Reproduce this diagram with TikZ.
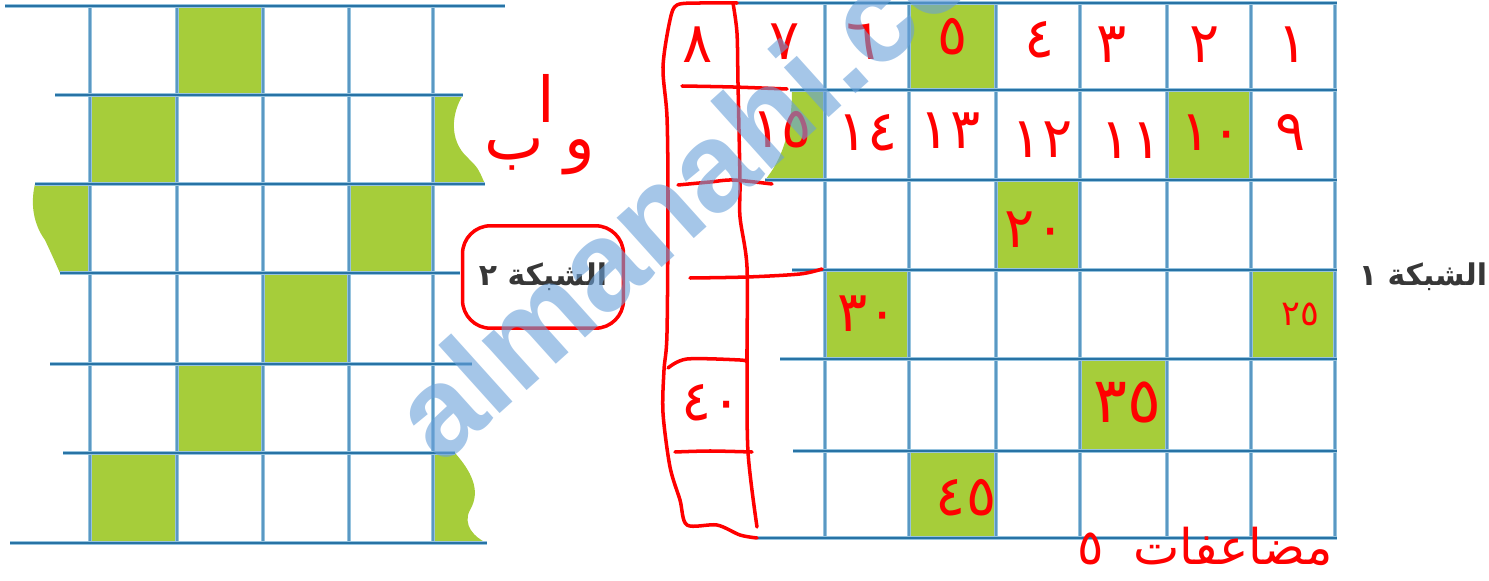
\documentclass[tikz,border=0pt]{standalone}
\usepackage{fontspec}
\newfontfamily\arabicfont[Script=Arabic]{DejaVu Sans}
\newfontfamily\filigranefont{Liberation Sans}
\TeXXeTstate=1
\definecolor{vertcase}{RGB}{166,205,58}
\definecolor{grilleclair}{RGB}{150,195,222}
\definecolor{grillefonce}{RGB}{40,115,165}
\definecolor{grillemoyen}{RGB}{90,152,195}
\definecolor{feutre}{RGB}{255,0,0}
\definecolor{texteimprime}{RGB}{55,55,55}
\definecolor{bleufiligrane}{RGB}{105,160,217}
\begin{document}
\begin{tikzpicture}[x=0.02cm,y=-0.02cm]
		% Styles (MODIFIABLES)
		\tikzstyle{caseverte}=[fill=vertcase]
		\tikzstyle{ligneH}=[draw=grilleclair,line width=0.5pt,double=grillefonce,double distance=1.2pt]
		\tikzstyle{ligneV}=[draw=grilleclair,line width=1.1pt,double=grillemoyen,double distance=0.6pt]
		\tikzstyle{trait}=[draw=feutre,line width=2pt,line cap=round,line join=round]
		\tikzstyle{chiffre}=[text=feutre,inner sep=0pt,font=\arabicfont\fontsize{32}{32}\selectfont]
		\tikzstyle{titre}=[text=texteimprime,font=\arabicfont\bfseries\fontsize{17}{17}\selectfont]
		\tikzstyle{filigrane}=[anchor=base west,rotate=42,text=bleufiligrane,opacity=0.6,font=\filigranefont\bfseries\fontsize{72}{72}\selectfont]
		% Dimensions (MODIFIABLES)
		\def\HautG{6}
		\def\BasG{543}
		\def\HautD{3}
		\def\BasD{538}
		\useasboundingbox (0,0) rectangle (1489,581);
		% Cases vertes : grille 2
		\fill[caseverte] (177,6) rectangle (263,95);
		\fill[caseverte] (90,95) rectangle (177,184);
		\fill[caseverte] (349,184) rectangle (433,273);
		\fill[caseverte] (263,273) rectangle (349,364);
		\fill[caseverte] (177,364) rectangle (263,453);
		\fill[caseverte] (90,453) rectangle (177,543);
		\fill[caseverte] (433,95) -- (463,95) .. controls (452,112) and (448,140) .. (468,158) .. controls (478,168) .. (485,184) -- (433,184) -- cycle;
		\fill[caseverte] (90,184) -- (35,184) .. controls (30,205) and (34,225) .. (45,240) .. controls (52,255) .. (60,273) -- (90,273) -- cycle;
		\fill[caseverte] (433,453) -- (455,453) .. controls (470,470) and (482,490) .. (470,510) .. controls (462,525) and (475,538) .. (487,543) -- (433,543) -- cycle;
		% Cases vertes : grille 1
		\fill[caseverte] (909,3) rectangle (996,90);
		\fill[caseverte] (1167,90) rectangle (1251,180);
		\fill[caseverte] (996,180) rectangle (1080,270);
		\fill[caseverte] (825,270) rectangle (909,359);
		\fill[caseverte] (1251,270) rectangle (1335,359);
		\fill[caseverte] (1080,359) rectangle (1167,451);
		\fill[caseverte] (909,451) rectangle (996,538);
		\fill[caseverte] (825,90) -- (792,90) .. controls (792,130) and (782,160) .. (765,180) -- (825,180) -- cycle;
		% Lignes : grille 2
		\draw[ligneV] (90,\HautG) -- (90,\BasG);
		\draw[ligneV] (177,\HautG) -- (177,\BasG);
		\draw[ligneV] (263,\HautG) -- (263,\BasG);
		\draw[ligneV] (349,\HautG) -- (349,\BasG);
		\draw[ligneV] (433,\HautG) -- (433,\BasG);
		\draw[ligneH] (5,6) -- (505,6);
		\draw[ligneH] (55,95) -- (463,95);
		\draw[ligneH] (35,184) -- (485,184);
		\draw[ligneH] (60,273) -- (460,273);
		\draw[ligneH] (50,364) -- (472,364);
		\draw[ligneH] (63,453) -- (455,453);
		\draw[ligneH] (10,543) -- (487,543);
		% Lignes : grille 1
		\draw[ligneV] (825,\HautD) -- (825,\BasD);
		\draw[ligneV] (909,\HautD) -- (909,\BasD);
		\draw[ligneV] (996,\HautD) -- (996,\BasD);
		\draw[ligneV] (1080,\HautD) -- (1080,\BasD);
		\draw[ligneV] (1167,\HautD) -- (1167,\BasD);
		\draw[ligneV] (1251,\HautD) -- (1251,\BasD);
		\draw[ligneV] (1335,\HautD) -- (1335,\BasD);
		\draw[ligneH] (737,3) -- (1337,3);
		\draw[ligneH] (790,90) -- (1337,90);
		\draw[ligneH] (765,180) -- (1337,180);
		\draw[ligneH] (792,270) -- (1337,270);
		\draw[ligneH] (780,359) -- (1337,359);
		\draw[ligneH] (793,451) -- (1337,451);
		\draw[ligneH] (757,538) -- (1337,538);
		% Noeuds imprimes
		\node[titre] (grille1) at (1423,277) {\beginR الشبكة ١\endR};
		\node[titre,draw=feutre,line width=2pt,rounded corners=16pt,minimum width=3.22cm,minimum height=2.05cm] (grille2) at (543,277) {\beginR الشبكة ٢\endR};
		% Noeuds manuscrits (MODIFIABLES)
		\node[chiffre] (n1) at (1293,45) {١};
		\node[chiffre] (n2) at (1205,45) {٢};
		\node[chiffre] (n3) at (1112,45) {٣};
		\node[chiffre] (n4) at (1040,40) {٤};
		\node[chiffre] (n5) at (953,37) {٥};
		\node[chiffre] (n6) at (862,42) {٦};
		\node[chiffre] (n7) at (785,42) {٧};
		\node[chiffre] (n8) at (698,45) {٨};
		\node[chiffre] (n9) at (1291,133) {٩};
		\node[chiffre] (n10) at (1211,133) {١٠};
		\node[chiffre] (n11) at (1131,141) {١١};
		\node[chiffre] (n12) at (1042,140) {١٢};
		\node[chiffre] (n13) at (950,131) {١٣};
		\node[chiffre] (n14) at (868,133) {١٤};
		\node[chiffre] (n15) at (782,130) {١٥};
		\node[chiffre] (n20) at (1035,230) {٢٠};
		\node[chiffre] (n25) at (1300,314) [font=\arabicfont\fontsize{20}{20}\selectfont] {٢٥};
		\node[chiffre] (n30) at (868,314) {٣٠};
		\node[chiffre] (n35) at (1127,402) [font=\arabicfont\fontsize{36}{36}\selectfont] {٣٥};
		\node[chiffre] (n40) at (712,403) {٤٠};
		\node[chiffre] (n45) at (966,498) {٤٥};
		\node[chiffre] (alif) at (546,98) [font=\arabicfont\fontsize{36}{36}\selectfont] {ا};
		\node[chiffre] (waba) at (540,157) [font=\arabicfont\fontsize{36}{36}\selectfont] {\beginR و ب\endR};
		\node[chiffre] (multiples) at (1205,546) [font=\arabicfont\fontsize{28}{28}\selectfont] {\beginR مضاعفات\hspace{0.6em}٥\endR};
		% Colonne ajoutee au feutre
		\draw[trait] plot[smooth] coordinates {(737,3) (700,3) (677,5) (670,20) (663,67) (667,117) (668,200) (667,333) (664,370) (663,413) (670,467) (680,500) (687,525) (717,525) (740,535) (757,538)};
		\draw[trait] plot[smooth] coordinates {(733,3) (737,33) (738,83) (740,180) (740,217) (747,267) (747,360) (748,452) (757,527)};
		\draw[trait] plot[smooth] coordinates {(682,86) (733,87) (787,89)};
		\draw[trait] plot[smooth] coordinates {(678,185) (710,182) (733,180) (772,184)};
		\draw[trait] plot[smooth] coordinates {(690,278) (747,277) (800,274) (822,269)};
		\draw[trait] plot[smooth] coordinates {(668,368) (687,359) (740,360) (747,362)};
		\draw[trait] plot[smooth] coordinates {(675,452) (710,451) (752,452)};
		% Filigrane
		\node[filigrane] (marque) at (437,471) {almanahi.com};
\end{tikzpicture}
\end{document}
